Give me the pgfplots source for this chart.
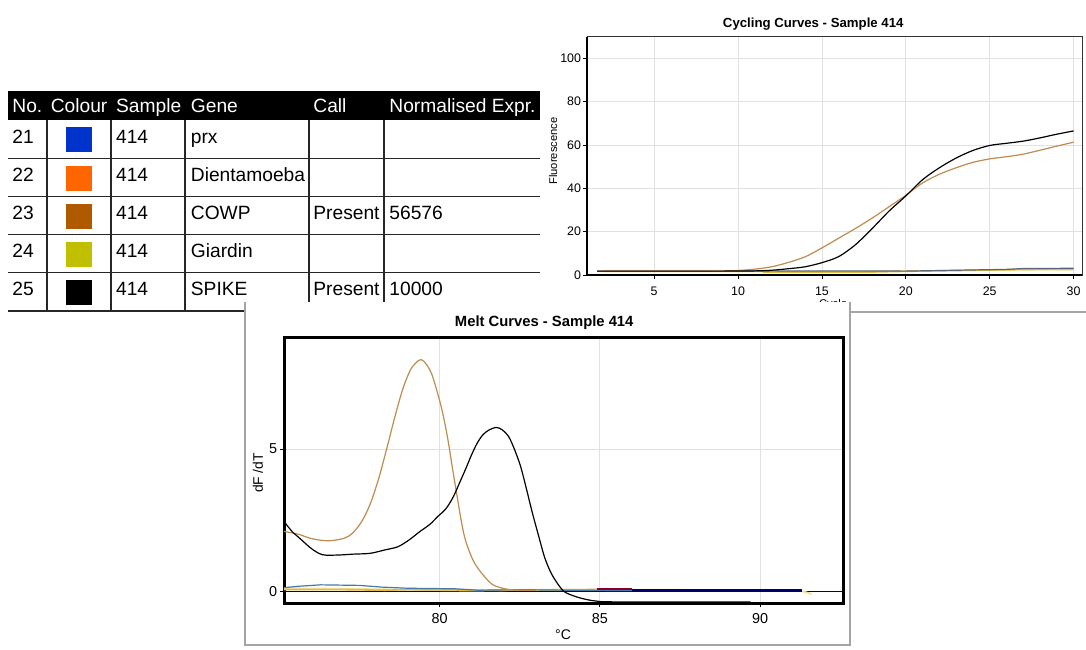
\documentclass[border=0pt]{standalone}
\usepackage{pgfplots}
\pgfplotsset{compat=1.18}
\usepackage{fontspec}
\setmainfont{Liberation Sans}
\definecolor{sqblue}{RGB}{0,51,204}
\definecolor{sqorange}{RGB}{255,102,0}
\definecolor{sqbrown}{RGB}{176,90,0}
\definecolor{sqyellow}{RGB}{192,192,0}
\definecolor{tanline}{RGB}{190,140,80}
\definecolor{panelgray}{RGB}{165,165,165}
\definecolor{gridgray}{RGB}{225,225,225}
\definecolor{navyline}{RGB}{0,0,110}
\definecolor{steel}{RGB}{70,120,170}
\definecolor{gold}{RGB}{225,185,60}
\definecolor{lightyel}{RGB}{240,225,150}
\definecolor{darkred}{RGB}{150,40,20}
\definecolor{slate}{RGB}{90,100,115}
\begin{document}
\begin{tikzpicture}
\path[use as bounding box, fill=white] (0pt,0pt) rectangle (543pt,-324.5pt);
% ---------------- table ----------------
\fill[black] (4pt,-45.5pt) rectangle (270pt,-60pt);
\begin{scope}[every node/.style={anchor=base west, inner sep=0pt, font=\fontsize{9.6}{11}\selectfont}]
\node[white] at (6pt,-56.3pt) {No.};
\node[white] at (25.2pt,-56.3pt) {Colour};
\node[white] at (57.85pt,-56.3pt) {Sample};
\node[white] at (95.25pt,-56.3pt) {Gene};
\node[white] at (156.5pt,-56.3pt) {Call};
\node[white] at (194.5pt,-56.3pt) {Normalised Expr.};
\foreach \y/\n/\g/\c/\v in {-71.7/21/prx//, -90.95/22/Dientamoeba//, -109.95/23/COWP/Present/56576, -128.95/24/Giardin//, -147.95/25/SPIKE/Present/10000}{
  \node at (6pt,\y pt) {\n};
  \node at (57.85pt,\y pt) {414};
  \node at (95.25pt,\y pt) {\g};
  \node at (156.5pt,\y pt) {\c};
  \node at (194.5pt,\y pt) {\v};
}
\end{scope}
\foreach \y/\col in {-69.75/sqblue, -89/sqorange, -108/sqbrown, -127/sqyellow, -146/black}{
  \fill[\col] (33pt,\y pt-6.25pt) rectangle (46pt,\y pt+6.25pt);
}
\begin{scope}[line width=0.75pt, black!85]
\foreach \y in {-79.25,-98.25,-117.25,-136.25}{\draw (4pt,\y pt) -- (270pt,\y pt);}
\draw (4pt,-155.5pt) -- (122pt,-155.5pt);
\foreach \x in {23.5,55.5,92.5,154.5,192}{\draw (\x pt,-60pt) -- (\x pt,-155.5pt);}
\end{scope}
% ---------------- cycling curves ----------------
\begin{axis}[
  scale only axis, width=247.5pt, height=119.15pt,
  at={(293.5pt,-137.5pt)}, anchor=south west,
  xmin=1, xmax=30.5, ymin=0, ymax=110,
  xtick={5,10,...,30}, ytick={0,20,...,100},
  xtick pos=left, ytick pos=left,
  grid=major, major grid style={gridgray, line width=0.4pt},
  tick align=outside, major tick length=2pt,
  tick style={black, line width=0.4pt},
  axis line style={black!80, line width=0.5pt},
  ticklabel style={font=\fontsize{6.2}{7}\selectfont, inner sep=0.8pt},
  xticklabel style={yshift=-3pt},
  /pgf/number format/assume math mode=true,
  title={Cycling Curves - Sample 414},
  title style={at={(axis description cs:0.457,1)}, anchor=base, yshift=-1.2pt, font=\fontsize{6.6}{7}\selectfont\bfseries},
  xlabel={Cycle},
  xlabel style={at={(axis description cs:0.497,-0.125)}, anchor=center, font=\fontsize{5.6}{6}\selectfont},
  ylabel={Fluorescence},
  ylabel style={at={(axis description cs:-0.0687,0.52)}, anchor=center, font=\fontsize{5.6}{6}\selectfont},
  clip=false,
]
\addplot[darkred, line width=0.6pt] coordinates {(1.6,1.8) (11.5,1.8)};
\addplot[lightyel, line width=0.7pt] coordinates {(1.6,1.6) (11.5,1.5) (17,1.4) (18,1.7) (22,1.9) (26,2.4) (30,2.5)};
\addplot[gold, line width=0.8pt] coordinates {(11.5,1.4) (17.5,1.3) (20,1.7) (22.5,2.0) (25,2.3) (28,2.6) (30,2.6)};
\addplot[slate, line width=0.6pt] coordinates {(1.6,1.7) (10,1.8) (12,1.9) (20,1.8) (26,2.6) (27,3.0) (30,3.1)};
\addplot[tanline, line width=0.6pt, smooth] coordinates {
 (1.6,1.8) (9,1.9) (10,2.1) (11,2.7) (12,3.8) (13,5.8) (14,8.4) (15,12.5) (16,17) (17,21.5) (18,26.3) (19,31.5) (20,36.8) (21,42.5) (22,46.5) (23,49.5) (24,52) (25,53.6) (26,54.6) (27,55.8) (28,57.6) (29,59.5) (30,61.3)};
\addplot[black, line width=0.6pt, smooth] coordinates {
 (1.6,1.8) (5,1.8) (9,1.8) (11,1.9) (12,2.2) (13,2.9) (14,3.8) (15,5.7) (16,8.5) (17,14) (18,21.5) (19,29.5) (20,36.5) (21,44) (22,49.5) (23,54) (24,57.5) (25,59.8) (26,60.8) (27,61.8) (28,63.3) (29,65) (30,66.5)};
\draw[black, line width=1pt] (rel axis cs:0,1) -- (rel axis cs:0,0) -- (rel axis cs:1,0);
\end{axis}
\draw[panelgray, line width=0.6pt] (425pt,-156pt) -- (543pt,-156pt);
% ---------------- melt panel ----------------
\fill[white] (122.5pt,-150.8pt) rectangle (425pt,-322.5pt);
\draw[panelgray, line width=0.7pt] (122.5pt,-151pt) -- (122.5pt,-322.5pt) -- (425pt,-322.5pt) -- (425pt,-151pt);
\begin{axis}[
  scale only axis, width=279.8pt, height=132.65pt,
  at={(142pt,-301.5pt)}, anchor=south west,
  xmin=75.15, xmax=92.6, ymin=-0.42, ymax=8.92,
  xtick={80,85,90}, ytick={0,5},
  xtick pos=left, ytick pos=left,
  grid=major, major grid style={gridgray, line width=0.4pt},
  tick align=outside, major tick length=2pt,
  tick style={black, line width=0.4pt},
  axis line style={black, line width=1.5pt},
  ticklabel style={font=\fontsize{7.2}{8}\selectfont, inner sep=1.2pt},
  xticklabel style={yshift=-2pt},
  /pgf/number format/assume math mode=true,
  title={Melt Curves - Sample 414},
  title style={at={(axis description cs:0.465,1)}, anchor=base, yshift=-0.6pt, font=\fontsize{7.4}{8}\selectfont\bfseries},
  xlabel={°C},
  xlabel style={at={(axis description cs:0.4986,-0.1206)}, anchor=center, font=\fontsize{7}{8}\selectfont},
  ylabel={dF /dT},
  ylabel style={at={(axis description cs:-0.0465,0.49)}, anchor=center, font=\fontsize{6.9}{8}\selectfont},
  clip=false,
]
\addplot[navyline, line width=0.5pt] coordinates {(75.15,0) (92.6,0)};
\addplot[lightyel, line width=0.9pt] coordinates {(75.15,0.1) (77,0.08) (79,0.05) (81,0.02) (83,0.05) (85,0.05) (88,0.04) (91.3,0.0) (91.6,-0.1)};
\addplot[gold, line width=0.8pt] coordinates {(75.15,0.05) (77,0.05) (78.3,0.03) (79,0.05) (82,0.03) (84,0.05) (85.5,0.06) (86,0.05)};
\addplot[steel, line width=0.6pt] coordinates {(75.15,0.12) (75.6,0.17) (76.3,0.22) (77.5,0.2) (78.2,0.14) (79,0.1) (80.5,0.08) (81.2,0.03) (82.5,0.05) (84,0.03) (86,0.02) (88,0.05) (91.3,0.0)};
\addplot[purple!70!black, line width=0.9pt] coordinates {(84.9,0.07) (86,0.07)};
\addplot[navyline, line width=1.2pt] coordinates {(86,0.02) (91.3,0.02)};
\addplot[tanline, line width=0.6pt, smooth] coordinates {
 (75.15,2.1) (75.6,2.0) (76.0,1.85) (76.5,1.77) (77.0,1.85) (77.3,2.05) (77.6,2.5) (77.85,3.1) (78.1,3.95) (78.35,5.0) (78.6,6.1) (78.85,7.1) (79.1,7.8) (79.35,8.12) (79.5,8.1) (79.75,7.66) (80.05,6.5) (80.25,5.4) (80.45,4.0) (80.75,2.05) (81.0,1.2) (81.2,0.8) (81.45,0.45) (81.7,0.2) (82.2,0.05) (83,0.03)};
\addplot[black, line width=0.6pt, smooth] coordinates {
 (75.15,2.45) (75.4,2.1) (75.65,1.85) (76.0,1.5) (76.35,1.28) (76.85,1.27) (77.3,1.3) (77.84,1.33) (78.3,1.45) (78.7,1.56) (79.05,1.8) (79.38,2.09) (79.7,2.35) (79.94,2.62) (80.2,2.9) (80.43,3.32) (80.62,3.8) (80.8,4.26) (81.0,4.8) (81.17,5.2) (81.35,5.5) (81.54,5.67) (81.77,5.76) (81.95,5.68) (82.16,5.43) (82.35,4.95) (82.53,4.38) (82.72,3.55) (82.9,2.73) (83.1,1.9) (83.27,1.21) (83.45,0.7) (83.64,0.33) (83.89,-0.02) (84.26,-0.2) (84.6,-0.3) (84.88,-0.35) (85.5,-0.38) (89.7,-0.38)};
\end{axis}
\end{tikzpicture}
\end{document}
